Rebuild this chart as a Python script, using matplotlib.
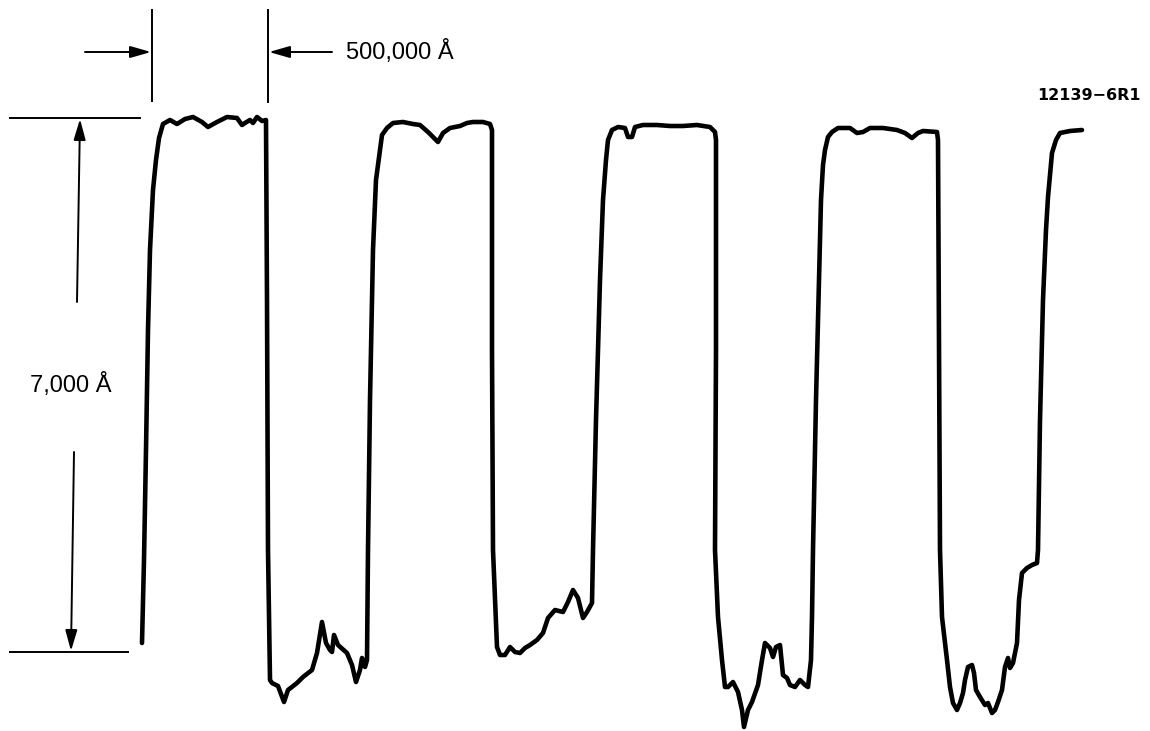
import matplotlib
matplotlib.use('Agg')
import matplotlib.pyplot as plt

trace_x = [142, 144, 146, 148, 150, 153, 156, 159, 163, 170, 177, 185, 193, 202, 208, 217, 227, 237, 242, 245,
           250, 253, 257, 262, 266,
           267, 268, 270, 272, 278, 284, 288, 297, 303, 312, 317, 322, 326, 330, 332, 334, 338, 347, 352, 356,
           360, 362, 365, 367, 368, 370, 373, 376, 380, 382, 387, 393, 403, 413, 420, 428, 438, 443, 450, 460,
           467, 473, 483, 490, 492,
           492, 493, 497, 500, 505, 510, 515, 520, 525, 530, 537, 543, 548, 555, 563, 568, 573, 578, 583, 587,
           592, 593, 596, 600, 603, 606, 608, 612, 618, 625, 628, 632, 635, 643, 657, 670, 683, 697, 710, 715, 716,
           716, 715, 718, 722, 725, 728, 733, 738, 742, 744, 748, 752, 758, 762, 765, 770, 773, 776, 780, 783,
           787, 790, 795, 800, 805, 808, 811, 812, 813, 816, 819, 821, 823, 825, 828, 832, 838, 850, 857, 863,
           870, 883, 897, 905, 912, 918, 923, 937, 938,
           939, 940, 942, 947, 950, 953, 957, 960, 963, 965, 968, 972, 974, 976, 980, 985, 988, 992, 995, 998,
           1002, 1005, 1008, 1010, 1013, 1017, 1019, 1022, 1027, 1032, 1037, 1038, 1040, 1043, 1046, 1048, 1052,
           1056, 1060, 1070, 1082]
trace_y = [643, 560, 450, 330, 250, 190, 160, 138, 124, 120, 124, 119, 117, 122, 127, 122, 117, 118, 125, 123,
           120, 123, 117, 121, 120,
           300, 550, 680, 683, 686, 702, 690, 683, 677, 670, 653, 622, 643, 650, 652, 635, 645, 653, 665, 682,
           670, 658, 667, 660, 550, 400, 250, 180, 150, 135, 128, 123, 122, 124, 125, 132, 142, 133, 128, 126,
           123, 122, 122, 124, 130,
           350, 550, 647, 655, 655, 647, 652, 653, 648, 645, 640, 633, 618, 610, 612, 602, 590, 598, 618, 612,
           603, 550, 420, 280, 200, 160, 140, 130, 127, 128, 137, 137, 127, 125, 125, 126, 126, 125, 127, 132, 140,
           350, 550, 617, 660, 687, 687, 682, 692, 710, 727, 710, 702, 685, 660, 643, 648, 657, 647, 645, 675,
           678, 685, 687, 680, 685, 687, 660, 617, 550, 400, 280, 200, 165, 150, 137, 132, 128, 128, 133, 132,
           128, 128, 130, 133, 138, 133, 131, 132, 140,
           350, 550, 617, 660, 687, 703, 710, 703, 693, 680, 667, 665, 673, 690, 697, 705, 703, 713, 710, 702,
           690, 667, 658, 668, 663, 643, 600, 573, 568, 565, 563, 550, 420, 300, 230, 197, 153,
           140, 133, 131, 130]

# Cotas
width_label = '500,000 Å'
height_label = '7,000 Å'
fig_id = '12139−6R1'

fig = plt.figure(figsize=(11.5, 7.31), dpi=100)
ax = fig.add_axes([0, 0, 1, 1])
ax.set_xlim(0, 1150)
ax.set_ylim(731, 0)
ax.axis('off')

ax.plot(trace_x, trace_y, color='black', lw=3.3, solid_joinstyle='round', solid_capstyle='round')

thin = dict(color='black', lw=1.4)
# linhas de referencia da largura
ax.plot([152, 152], [10, 101], **thin)
ax.plot([268, 268], [10, 102], **thin)
# linhas de referencia da altura
ax.plot([10, 140], [118, 118], **thin)
ax.plot([10, 128], [652, 652], **thin)

arrow = dict(arrowstyle='-|>,head_length=0.7,head_width=0.2', color='black', lw=1.4,
             shrinkA=0, shrinkB=0, mutation_scale=18)
ax.annotate('', xy=(151, 52), xytext=(85, 52), arrowprops=arrow)
ax.annotate('', xy=(269, 52), xytext=(332, 52), arrowprops=arrow)
ax.annotate('', xy=(80, 119), xytext=(77, 302), arrowprops=arrow)
ax.annotate('', xy=(71, 651), xytext=(74, 452), arrowprops=arrow)

ax.text(346, 52, width_label, fontsize=17, family='Liberation Sans', va='center', ha='left')
ax.text(30, 385, height_label, fontsize=17, family='Liberation Sans', va='center', ha='left')
ax.text(1141, 96, fig_id, fontsize=11.5, family='DejaVu Sans', weight='bold', va='center', ha='right')

plt.savefig('out.png', dpi=100)
